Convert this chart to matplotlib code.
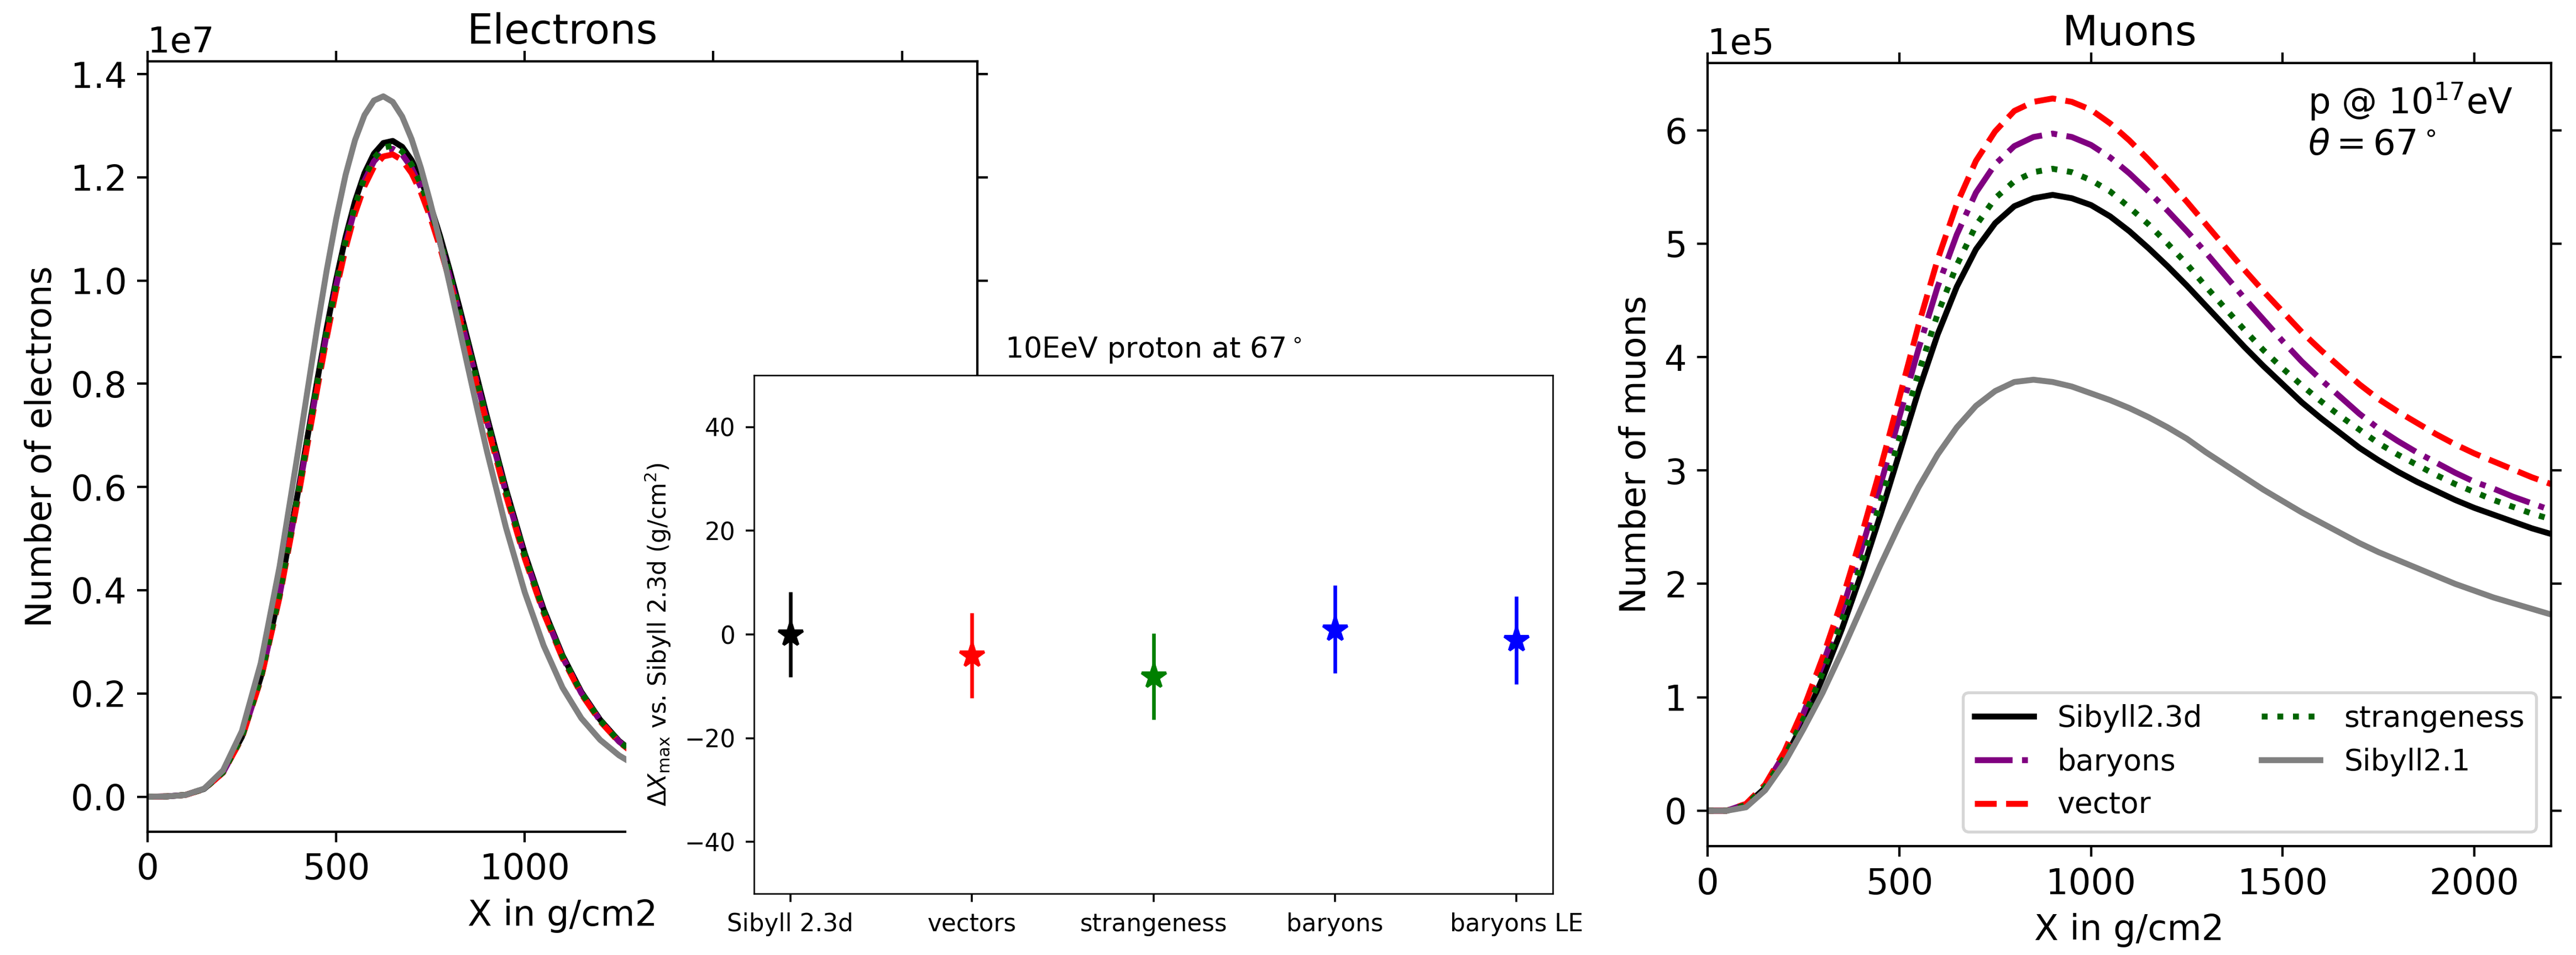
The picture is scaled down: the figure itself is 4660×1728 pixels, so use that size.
import matplotlib
matplotlib.use("Agg")
import matplotlib.pyplot as plt
from matplotlib.patches import Rectangle

# ---- electron profiles (units of 1e7 particles) ----
depth_e = [0, 50, 100, 150, 200, 250, 300, 350, 400, 450, 475, 500, 525, 550, 575, 600, 625,
           650, 675, 700, 725, 750, 775, 800, 825, 850, 875, 900, 950, 1000, 1050, 1100, 1150,
           1200, 1250, 1300]
el_sib23d = [0.0000, 0.0005, 0.0034, 0.0151, 0.0475, 0.1158, 0.2311, 0.3949, 0.5951, 0.8073,
             0.9083, 1.0018, 1.0846, 1.1537, 1.2079, 1.2456, 1.2664, 1.2705, 1.2591, 1.2332,
             1.1946, 1.1452, 1.0873, 1.0227, 0.9532, 0.8813, 0.8082, 0.7357, 0.5966, 0.4712,
             0.3633, 0.2740, 0.2030, 0.1490, 0.1080, 0.0790]
el_baryons = [0.0000, 0.0005, 0.0034, 0.0149, 0.0469, 0.1144, 0.2283, 0.3902, 0.5880, 0.7976,
              0.8974, 0.9898, 1.0716, 1.1399, 1.1934, 1.2307, 1.2512, 1.2553, 1.2440, 1.2184,
              1.1803, 1.1315, 1.0743, 1.0104, 0.9418, 0.8707, 0.7985, 0.7269, 0.5894, 0.4655,
              0.3589, 0.2707, 0.2006, 0.1472, 0.1067, 0.0781]
el_vector = [0.0000, 0.0005, 0.0033, 0.0148, 0.0465, 0.1134, 0.2264, 0.3868, 0.5829, 0.7908,
             0.8897, 0.9813, 1.0624, 1.1300, 1.1831, 1.2201, 1.2404, 1.2444, 1.2333, 1.2079,
             1.1701, 1.1217, 1.0650, 1.0017, 0.9337, 0.8632, 0.7916, 0.7206, 0.5844, 0.4615,
             0.3559, 0.2684, 0.1988, 0.1459, 0.1058, 0.0774]
el_strange = [0.0000, 0.0005, 0.0034, 0.0150, 0.0472, 0.1150, 0.2295, 0.3921, 0.5909, 0.8016,
              0.9019, 0.9947, 1.0769, 1.1455, 1.1993, 1.2368, 1.2574, 1.2615, 1.2502, 1.2244,
              1.1861, 1.1371, 1.0796, 1.0154, 0.9464, 0.8750, 0.8025, 0.7305, 0.5924, 0.4679,
              0.3607, 0.2721, 0.2016, 0.1479, 0.1072, 0.0784]
el_sib21 = [0.0000, 0.0004, 0.0033, 0.0156, 0.0509, 0.1272, 0.2587, 0.4462, 0.6737, 0.9103,
            1.0205, 1.1195, 1.2049, 1.2721, 1.3205, 1.3488, 1.3569, 1.3461, 1.3177, 1.2740,
            1.2174, 1.1502, 1.0755, 0.9955, 0.9130, 0.8298, 0.7478, 0.6683, 0.5218, 0.3961,
            0.2929, 0.2115, 0.1520, 0.1100, 0.0800, 0.0580]

# ---- muon profiles (units of 1e5 particles) ----
depth_m = list(range(0, 2201, 50))
mu_sib23d = [0.00, 0.00, 0.05, 0.20, 0.45, 0.78, 1.17, 1.60, 2.08, 2.60, 3.15, 3.70, 4.20, 4.62,
             4.95, 5.18, 5.33, 5.40, 5.43, 5.40, 5.34, 5.24, 5.11, 4.96, 4.80, 4.63, 4.45, 4.27,
             4.09, 3.92, 3.76, 3.60, 3.46, 3.33, 3.20, 3.09, 2.99, 2.90, 2.82, 2.74, 2.67, 2.61,
             2.55, 2.49, 2.44]
mu_baryons = [0.00, 0.00, 0.06, 0.22, 0.50, 0.86, 1.29, 1.76, 2.29, 2.86, 3.47, 4.07, 4.62, 5.08,
              5.45, 5.70, 5.86, 5.94, 5.97, 5.94, 5.87, 5.76, 5.62, 5.46, 5.29, 5.11, 4.92, 4.72,
              4.52, 4.33, 4.14, 3.96, 3.80, 3.65, 3.50, 3.37, 3.26, 3.16, 3.07, 2.98, 2.90, 2.84,
              2.77, 2.71, 2.65]
mu_vector = [0.00, 0.00, 0.06, 0.23, 0.52, 0.90, 1.35, 1.85, 2.41, 3.01, 3.64, 4.28, 4.86, 5.35,
             5.73, 5.99, 6.17, 6.25, 6.28, 6.25, 6.18, 6.06, 5.91, 5.74, 5.56, 5.37, 5.17, 4.97,
             4.77, 4.58, 4.40, 4.22, 4.06, 3.91, 3.76, 3.63, 3.52, 3.42, 3.32, 3.23, 3.15, 3.08,
             3.01, 2.94, 2.88]
mu_strange = [0.00, 0.00, 0.05, 0.21, 0.47, 0.81, 1.22, 1.67, 2.17, 2.71, 3.28, 3.86, 4.38, 4.81,
              5.16, 5.40, 5.55, 5.63, 5.66, 5.63, 5.56, 5.46, 5.32, 5.17, 5.00, 4.82, 4.62, 4.43,
              4.24, 4.06, 3.90, 3.75, 3.61, 3.48, 3.36, 3.24, 3.14, 3.05, 2.96, 2.88, 2.81, 2.74,
              2.68, 2.62, 2.57]
mu_sib21 = [0.00, 0.00, 0.03, 0.18, 0.42, 0.72, 1.04, 1.40, 1.78, 2.16, 2.52, 2.85, 3.14, 3.38,
            3.57, 3.70, 3.78, 3.80, 3.78, 3.74, 3.68, 3.62, 3.55, 3.47, 3.38, 3.28, 3.16, 3.05,
            2.94, 2.83, 2.73, 2.63, 2.54, 2.45, 2.36, 2.28, 2.21, 2.14, 2.07, 2.00, 1.94, 1.88,
            1.83, 1.78, 1.73]

series_labels = ["Sibyll2.3d", "baryons", "vector", "strangeness", "Sibyll2.1"]
series_colors = ["black", "purple", "red", "darkgreen", "gray"]
series_styles = ["-", "-.", "--", ":", "-"]
el_series = [el_sib23d, el_baryons, el_vector, el_strange, el_sib21]
mu_series = [mu_sib23d, mu_baryons, mu_vector, mu_strange, mu_sib21]

# ---- Xmax shifts relative to Sibyll 2.3d ----
models = ["Sibyll 2.3d", "vectors", "strangeness", "baryons", "baryons LE"]
dxmax = [0.0, -4.0, -8.1, 1.0, -1.1]
dxmax_err = [8.25, 8.2, 8.3, 8.5, 8.5]
model_colors = ["black", "red", "green", "blue", "blue"]

fig = plt.figure(figsize=(4660 / 384, 1728 / 384), dpi=384)
ax_e = fig.add_axes([0.0573, 0.1291, 0.3221, 0.8067])
ax_m = fig.add_axes([0.6629, 0.1138, 0.3274, 0.8204])

for lab, c, ls, ye, ym in zip(series_labels, series_colors, series_styles, el_series, mu_series):
    ax_e.plot(depth_e, [v * 1e7 for v in ye], color=c, ls=ls, lw=2, label=lab)
    ax_m.plot(depth_m, [v * 1e5 for v in ym], color=c, ls=ls, lw=2, label=lab)

for ax, title, ylab in [(ax_e, "Electrons", "Number of electrons"),
                        (ax_m, "Muons", "Number of muons")]:
    ax.set_xlim(0, 2200)
    ax.set_title(title, fontsize=14)
    ax.set_xlabel("X in g/cm2", fontsize=12)
    ax.set_ylabel(ylab, fontsize=12)
    ax.ticklabel_format(axis="y", style="sci", scilimits=(0, 0))
    ax.tick_params(labelsize=12, top=True, right=True)
    ax.yaxis.get_offset_text().set_fontsize(12)

ax_m.legend(loc="lower right", ncol=2, fontsize=10)
ax_m.text(0.712, 0.977, "p @ $10^{17}$eV\n$\\theta = 67^\\circ$", transform=ax_m.transAxes,
          fontsize=12, va="top", ha="left")

# white backing behind the Xmax panel
fig.patches.append(Rectangle((0.2431, 0.0741), 0.3597, 0.5330, transform=fig.transFigure,
                             facecolor="white", edgecolor="none", zorder=1))

ax_i = fig.add_axes([0.2927, 0.0642, 0.3101, 0.5428])
ax_i.set_zorder(2)
for i, (v, e, c) in enumerate(zip(dxmax, dxmax_err, model_colors)):
    ax_i.errorbar(i, v, yerr=e, fmt="*", color=c, ms=8.5, elinewidth=1.23)
ax_i.set_xticks(range(len(models)))
ax_i.set_xticklabels(models)
ax_i.set_ylim(-50, 50)
ax_i.set_title("10EeV proton at 67$^\\circ$", fontsize=9.84)
ax_i.set_ylabel("$\\Delta X_{\\rm max}$ vs. Sibyll 2.3d (g/cm$^2$)", fontsize=8.2)
ax_i.tick_params(labelsize=8.2, length=2.87, width=0.66)
for s in ax_i.spines.values():
    s.set_linewidth(0.5)

fig.savefig("out.png", dpi=384)
